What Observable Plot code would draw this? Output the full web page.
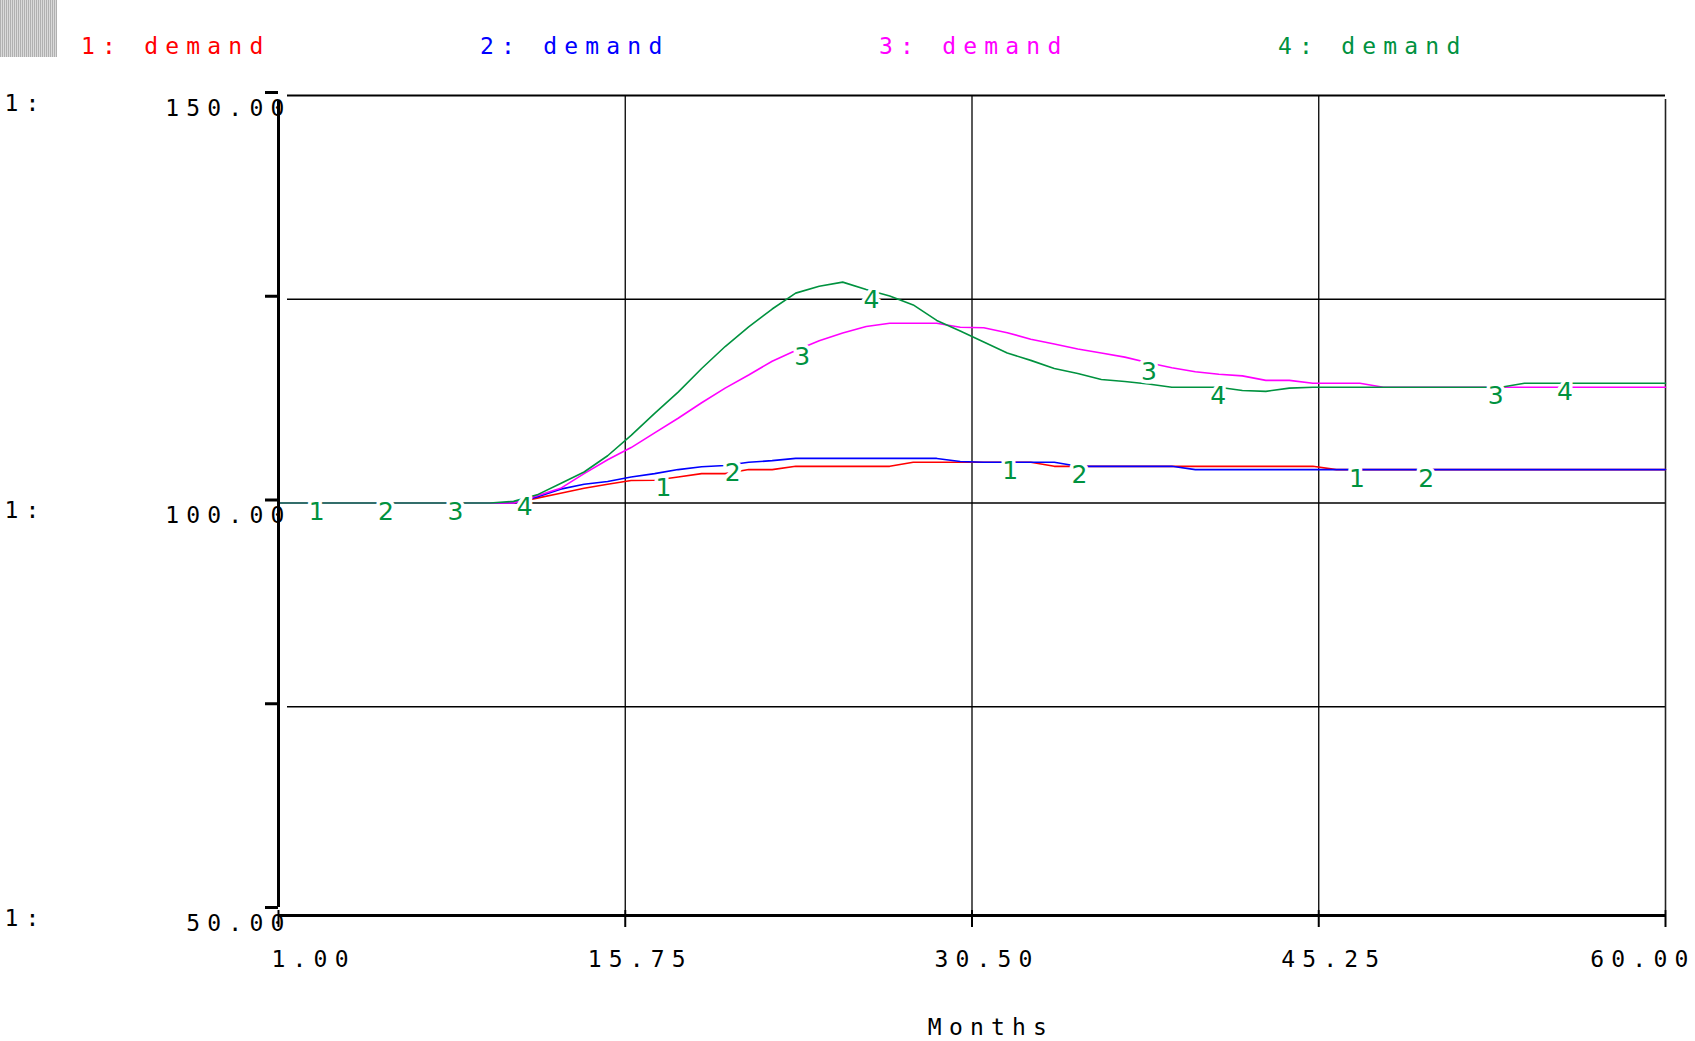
<!DOCTYPE html>
<html><head><meta charset="utf-8">
<script src="https://cdn.jsdelivr.net/npm/d3@7"></script>
<script src="https://cdn.jsdelivr.net/npm/@observablehq/plot@0.6"></script>
<style>
body{margin:0;background:#fff;}
#wrap{position:relative;width:1695px;height:1041px;overflow:hidden;background:#fff;}
#legend{position:relative;height:78px;}
#swatch{position:absolute;left:0;top:0;width:57px;height:57px;background:repeating-linear-gradient(90deg,#b0b0b0 0 1px,#dadada 1px 2px);}
.leg{position:absolute;top:31px;font-family:"DejaVu Sans Mono";font-size:23px;letter-spacing:7.2px;white-space:pre;line-height:30px;}
</style></head><body>
<div id="wrap"><div id="legend"><div id="swatch"></div></div><div id="chart"></div></div>
<script>
// ---- data ----
const months = d3.range(1, 61);
const seriesNames = ["1: demand", "2: demand", "3: demand", "4: demand"];
const seriesColors = ["#ff0000", "#0000ff", "#ff00ff", "#00923f"];
const demand1 = [100,100,100,100,100,100,100,100,100,100,100,
  100.6,101.2,101.8,102.3,102.76,102.8,103.2,103.6,103.6,104.1,104.1,
  104.5,104.5,104.5,104.5,104.5,
  105.0,105.0,105.0,105.0,105.0,105.0,
  104.5,104.5,104.5,104.5,104.5,104.5,104.5,104.5,104.5,104.5,104.5,104.5,
  104.1,104.1,104.1,104.1,104.1,104.1,104.1,104.1,104.1,104.1,104.1,104.1,104.1,104.1,104.1];
const demand2 = [100,100,100,100,100,100,100,100,100,100,100,
  100.75,101.7,102.3,102.64,103.2,103.6,104.1,104.45,104.6,105.0,105.2,
  105.47,105.47,105.47,105.47,105.47,105.47,105.47,
  105.1,105.0,105.0,105.0,105.0,
  104.5,104.5,104.5,104.5,104.5,
  104.1,104.1,104.1,104.1,104.1,104.1,104.1,104.1,104.1,104.1,104.1,104.1,104.1,104.1,104.1,104.1,104.1,104.1,104.1,104.1,104.1];
const demand3 = [100,100,100,100,100,100,100,100,100,100,100,
  100.9,101.8,103.6,105.3,106.8,108.6,110.4,112.3,114.1,115.7,117.4,118.7,119.9,120.85,121.65,
  122.05,122.05,122.05,121.56,121.5,120.9,120.1,119.5,118.9,118.4,117.9,117.2,116.6,116.1,115.8,115.6,
  115.05,115.05,114.7,114.7,114.7,
  114.2,114.2,114.2,114.2,114.2,114.2,114.2,114.2,114.2,114.2,114.2,114.2,114.2];
const demand4 = [100,100,100,100,100,100,100,100,100,100,
  100.2,101.0,102.4,103.8,105.8,108.3,111.0,113.6,116.5,119.2,121.6,123.8,125.75,126.6,127.1,
  126.2,125.4,124.3,122.4,121.1,119.75,118.4,117.5,116.5,115.9,115.15,114.9,114.6,114.2,114.2,114.2,
  113.8,113.7,114.1,
  114.2,114.2,114.2,114.2,114.2,114.2,114.2,114.2,114.2,
  114.7,114.7,114.7,114.7,114.7,114.7,114.7];
const yTicks = [50, 75, 100, 125, 150];
const yLabelTicks = [50, 100, 150];
const xTicks = [1, 15.75, 30.5, 45.25, 60];
const xLabel = "Months";
const axisPrefix = "1:";

const allSeries = [demand1, demand2, demand3, demand4];
const rows = [];
allSeries.forEach((vals, i) => vals.forEach((v, j) => rows.push({series: i, month: months[j], value: v})));

function valueAt(vals, t) {
  const j = Math.floor(t) - 1, f = t - Math.floor(t);
  return vals[j] * (1 - f) + vals[Math.min(j + 1, vals.length - 1)] * f;
}
// Stella-style numbered line labels: 4 per series, staggered by series
const span = (60 - 1) / 4;
const lineLabels = [];
allSeries.forEach((vals, i) => {
  for (let k = 0; k < 4; k++) {
    const t = 1 + span * (k + (i + 0.55) / 5);
    lineLabels.push({t, v: valueAt(vals, t), text: String(i + 1)});
  }
});

// legend
const legend = document.getElementById("legend");
seriesNames.forEach((n, i) => {
  const s = document.createElement("span");
  s.className = "leg";
  s.textContent = n;
  s.style.color = seriesColors[i];
  s.style.left = (81 + i * 399) + "px";
  legend.appendChild(s);
});

const mono = "DejaVu Sans Mono";
const fmt = d3.format(".2f");
const fs = 23;
const plot = Plot.plot({
  width: 1695, height: 963,
  marginTop: 17, marginRight: 30, marginBottom: 131, marginLeft: 278,
  x: {domain: [1, 60]},
  y: {domain: [50, 150]},
  marks: [
    Plot.ruleY([75, 100, 125], {stroke: "black", strokeWidth: 1.3, insetLeft: 9}),
    Plot.ruleY([150], {stroke: "black", strokeWidth: 2, insetLeft: 9}),
    Plot.ruleX([15.75, 30.5, 45.25], {y1: 50, y2: 150, stroke: "black", strokeWidth: 1.3}),
    Plot.ruleX([60], {y1: 50, y2: 150, stroke: "#222", strokeWidth: 1.6, insetBottom: -4}),
    ...allSeries.map((_, i) => Plot.line(rows.filter(d => d.series === i), {
      x: "month", y: "value", stroke: seriesColors[i], strokeWidth: 1.6
    })),
    Plot.text(lineLabels, {x: "t", y: "v", text: "text", fill: seriesColors[3], stroke: "white",
      strokeWidth: 7, paintOrder: "stroke", fontSize: 25, fontFamily: "DejaVu Sans", dy: 9}),
    Plot.ruleX([1], {y1: 50, y2: 150, stroke: "black", strokeWidth: 3, insetTop: -3, insetBottom: -6}),
    Plot.ruleY([50], {stroke: "black", strokeWidth: 3, dy: 5}),
    Plot.axisY({ticks: yTicks, tickSize: 13, tickFormat: () => "", strokeWidth: 3, label: null, dy: -3}),
    Plot.axisX({ticks: xTicks, tickSize: 17, tickFormat: () => "", strokeWidth: 2, label: null}),
    Plot.text(yLabelTicks, {y: d => d, text: d => fmt(d), frameAnchor: "left", textAnchor: "end",
      dx: 13, dy: 13, fontSize: fs, fontFamily: mono, fill: "black"}),
    Plot.text(yLabelTicks, {y: d => d, text: () => axisPrefix, frameAnchor: "left", textAnchor: "start",
      dx: -274, dy: 8, fontSize: fs, fontFamily: mono, fill: "black"}),
    Plot.text(xTicks.slice(0, 1), {x: d => d, text: d => fmt(d), frameAnchor: "bottom", textAnchor: "start",
      dx: -7, dy: 49, lineAnchor: "middle", fontSize: fs, fontFamily: mono, fill: "black"}),
    Plot.text(xTicks.slice(1, -1), {x: d => d, text: d => fmt(d), frameAnchor: "bottom", textAnchor: "middle",
      dx: 15, dy: 49, lineAnchor: "middle", fontSize: fs, fontFamily: mono, fill: "black"}),
    Plot.text(xTicks.slice(-1), {x: d => d, text: d => fmt(d), frameAnchor: "bottom", textAnchor: "end",
      dx: 30, dy: 49, lineAnchor: "middle", fontSize: fs, fontFamily: mono, fill: "black"}),
    Plot.text([xLabel], {text: d => d, frameAnchor: "bottom", textAnchor: "middle",
      dx: 19, dy: 117, lineAnchor: "middle", fontSize: fs, fontFamily: mono, fill: "black"})
  ]
});
d3.select(plot).selectAll('g[font-family="DejaVu Sans Mono"]').style("letter-spacing", "7.2px");
document.getElementById("chart").appendChild(plot);
</script></body></html>
